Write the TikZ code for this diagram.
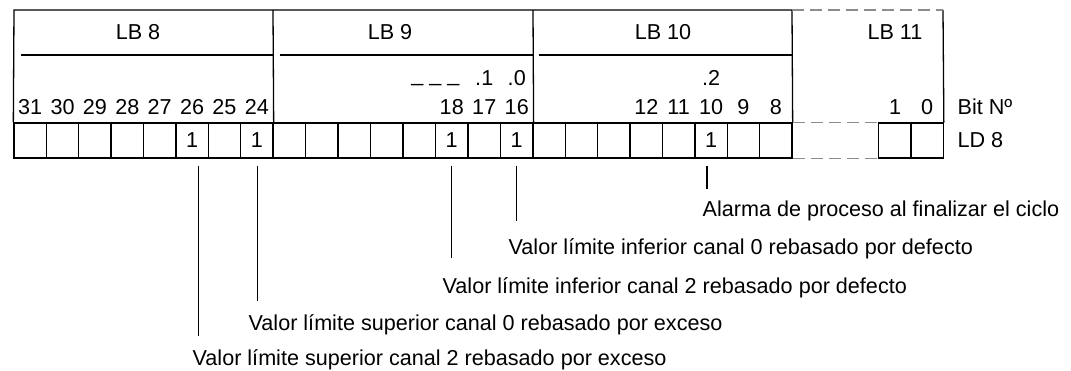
\documentclass[tikz,border=0pt]{standalone}
\usepackage{fontspec}
\setmainfont{Liberation Sans}
\definecolor{ghostgray}{HTML}{8C8C8C}
\begin{document}
\begin{tikzpicture}[x=1pt,y=-1pt,line width=1.3pt,
  txt/.style={font=\fontsize{21.6}{25}\selectfont},
  cell/.style={txt,draw,minimum width=32.4pt,minimum height=35pt,inner sep=0pt},
  lbl/.style={txt,inner sep=0pt,anchor=base},
  desc/.style={txt,inner sep=0pt,anchor=base west},
  ghost/.style={draw=ghostgray,dash pattern=on 12pt off 6pt},
  conn/.style={draw=black}]
\useasboundingbox (0,0) rectangle (1071,370);
% cells
\foreach \b/\s/\e in {31/14/273,23/273/533,15/533/792}{
  \foreach \i in {0,...,7}{
    \pgfmathtruncatemacro\n{\b-\i}
    \node[cell] (c\n) at ({\s+(\e-\s)/8*(\i+0.5)},140.5) {};
  }
}
\foreach \n in {26,24,18,16,10}{\node[txt,inner sep=0pt] at (c\n) {1};}
\node[cell] (c1) at (895,140.5) {};
\node[cell] (c0) at (927,140.5) {};
% frame
\coordinate (tl) at (14,10);
\coordinate (t9) at (273,10);
\coordinate (t10) at (533,10);
\coordinate (t11) at (792,10);
\coordinate (tr) at (943,10);
\draw (c31.north west) -- (tl) -- (t11) -- (c8.north east);
\draw (t9) -- (c24.north east);
\draw (t10) -- (c16.north east);
\draw (tr) -- (c0.north east);
\draw (21,55) -- (273,55);
\draw (280,55) -- (533,55);
\draw (539,55) -- (792,55);
% dashed LB 11 parts
\draw[ghost] (t11) -- (tr);
\draw[ghost] (c8.north east) -- (c1.north west);
\draw[ghost] (c8.south east) -- (c1.south west);
% byte labels
\node[lbl] (lb8) at (138,39.5) {LB 8};
\node[lbl] (lb9) at (390,39.5) {LB 9};
\node[lbl] (lb10) at (663,39.5) {LB 10};
\node[lbl] (lb11) at (895,39.5) {LB 11};
% bit numbers
\foreach \n in {31,30,29,28,27,26,25,24,18,17,16,12,11,10,9,8,1,0}{
  \node[lbl] (b\n) at ([yshift=26pt]c\n.center) {\n};
}
\node[lbl] (d17) at ([yshift=55pt]c17.center) {.1};
\node[lbl] (d16) at ([yshift=55pt]c16.center) {.0};
\node[lbl] (d10) at ([yshift=55pt]c10.center) {.2};
\node[lbl,anchor=base east] (dd) at (460,81) {\_ \_ \_};
\node[desc] (bitno) at (957,114.5) {Bit Nº};
\node[desc] (ld8) at (957,147.5) {LD 8};
% descriptions
\node[desc] (t10d) at (702,216.5) {Alarma de proceso al finalizar el ciclo};
\node[desc] (t16d) at (508,254.5) {Valor límite inferior canal 0 rebasado por defecto};
\node[desc] (t18d) at (442,293.5) {Valor límite inferior canal 2 rebasado por defecto};
\node[desc] (t24d) at (248,330.5) {Valor límite superior canal 0 rebasado por exceso};
\node[desc] (t26d) at (192,365.5) {Valor límite superior canal 2 rebasado por exceso};
% connectors
\draw[conn] ([xshift=-4pt,yshift=-7pt]c10.south) -- ++(0,23);
\draw[conn] ([yshift=-7pt]c16.south) -- ++(0,55);
\draw[conn] ([yshift=-7pt]c18.south) -- ++(0,92);
\draw[conn] ([xshift=1pt,yshift=-7pt]c24.south) -- ++(0,135);
\draw[conn] ([xshift=6.5pt,yshift=-7pt]c26.south) -- ++(0,170);
\end{tikzpicture}
\end{document}
